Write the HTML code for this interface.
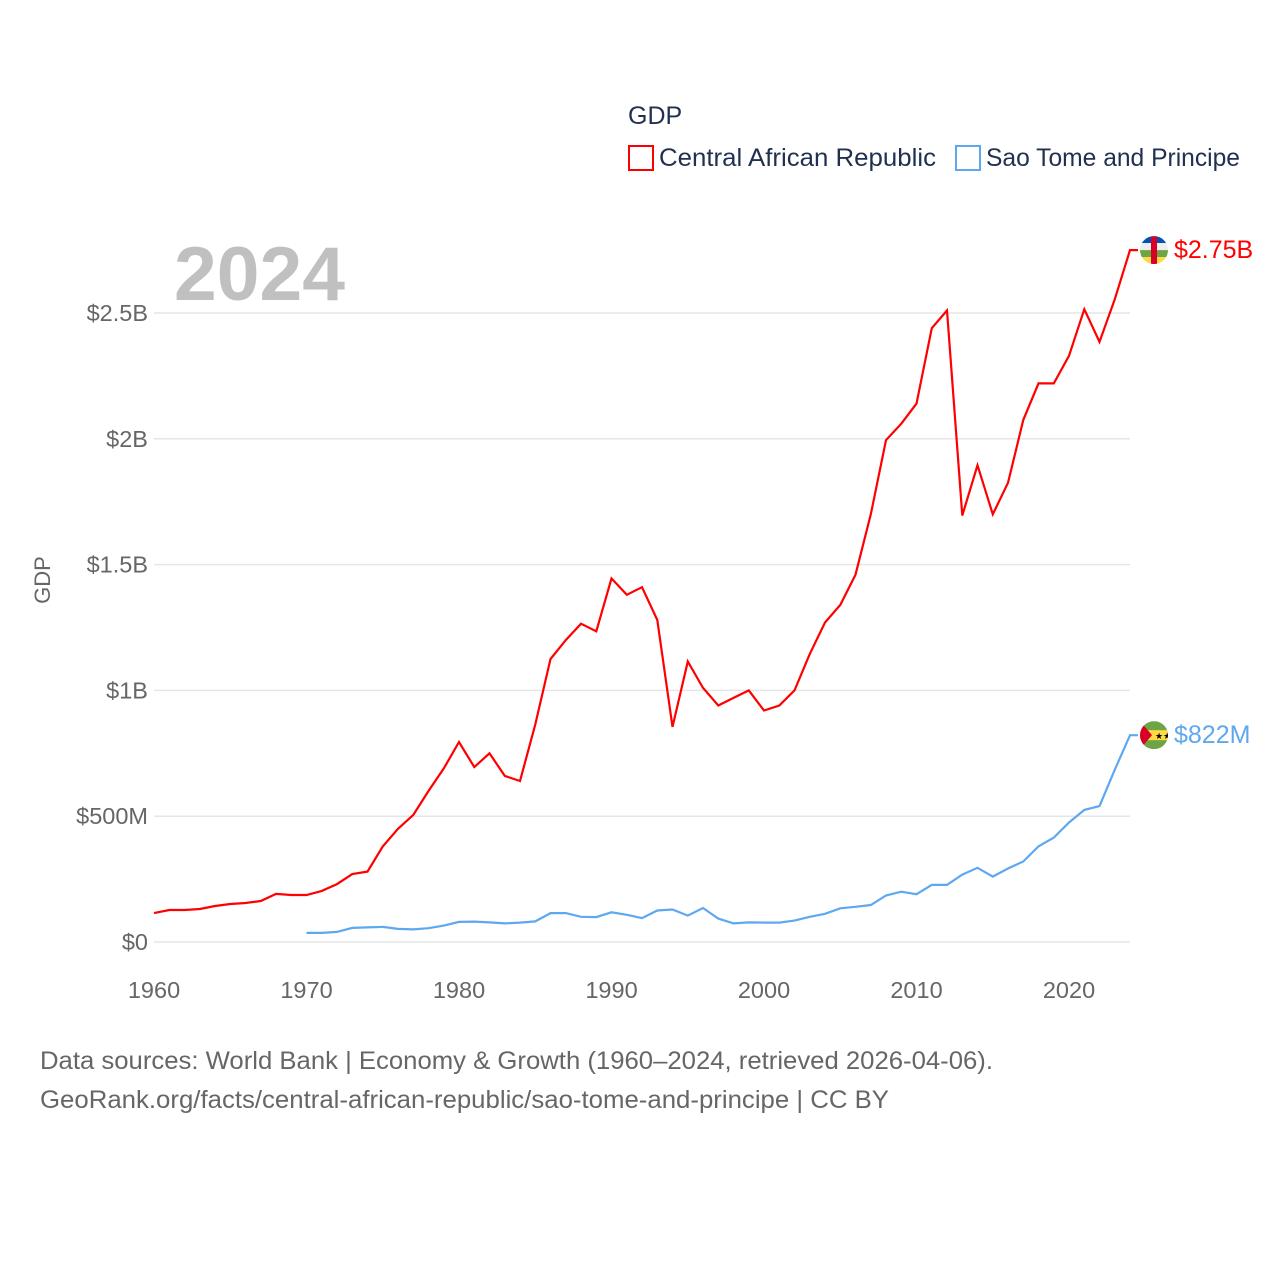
<!DOCTYPE html>
<html><head><meta charset="utf-8"><style>
body{margin:0;background:#fff;font-family:"Liberation Sans",sans-serif}
svg text{font-family:"Liberation Sans",sans-serif}
</style></head><body>
<svg id="chart" width="1280" height="1280" xmlns="http://www.w3.org/2000/svg">
<rect width="1280" height="1280" fill="#fff"/>
<text x="628" y="124" font-size="25" fill="#1f3050">GDP</text>
<g><rect x="629" y="146" width="24" height="24" fill="none" stroke="#ff0000" stroke-width="2"/><text x="659" y="166" font-size="25" fill="#1f3050" textLength="277" lengthAdjust="spacingAndGlyphs">Central African Republic</text></g>
<g><rect x="956" y="146" width="24" height="24" fill="none" stroke="#5ea8ef" stroke-width="2"/><text x="986" y="166" font-size="25" fill="#1f3050" textLength="254" lengthAdjust="spacingAndGlyphs">Sao Tome and Principe</text></g>
<text x="174" y="300" font-size="76" font-weight="bold" fill="#c0c0c0" textLength="171" lengthAdjust="spacingAndGlyphs">2024</text>
<text transform="translate(50,580) rotate(-90)" text-anchor="middle" font-size="22" fill="#666">GDP</text>
<g id="grid"></g><g id="yt"></g><g id="xt"></g><g id="lines"></g>
<text x="40" y="1069" font-size="25" fill="#666" textLength="953" lengthAdjust="spacingAndGlyphs">Data sources: World Bank | Economy &amp; Growth (1960–2024, retrieved 2026-04-06).</text>
<text x="40" y="1108" font-size="25" fill="#666" textLength="849" lengthAdjust="spacingAndGlyphs">GeoRank.org/facts/central-african-republic/sao-tome-and-principe | CC BY</text>
</svg>
<script>
const carYears=[1960,1961,1962,1963,1964,1965,1966,1967,1968,1969,1970,1971,1972,1973,1974,1975,1976,1977,1978,1979,1980,1981,1982,1983,1984,1985,1986,1987,1988,1989,1990,1991,1992,1993,1994,1995,1996,1997,1998,1999,2000,2001,2002,2003,2004,2005,2006,2007,2008,2009,2010,2011,2012,2013,2014,2015,2016,2017,2018,2019,2020,2021,2022,2023,2024];
const carValues=[0.115,0.127,0.127,0.131,0.143,0.151,0.155,0.163,0.191,0.187,0.187,0.203,0.23,0.27,0.28,0.38,0.45,0.505,0.6,0.69,0.795,0.695,0.75,0.66,0.64,0.865,1.125,1.2,1.265,1.235,1.445,1.38,1.41,1.28,0.855,1.115,1.01,0.94,0.97,1.0,0.92,0.94,1.0,1.145,1.27,1.34,1.46,1.7,1.995,2.06,2.14,2.44,2.51,1.695,1.895,1.7,1.825,2.075,2.22,2.22,2.33,2.515,2.385,2.555,2.75];
const stpYears=[1970,1971,1972,1973,1974,1975,1976,1977,1978,1979,1980,1981,1982,1983,1984,1985,1986,1987,1988,1989,1990,1991,1992,1993,1994,1995,1996,1997,1998,1999,2000,2001,2002,2003,2004,2005,2006,2007,2008,2009,2010,2011,2012,2013,2014,2015,2016,2017,2018,2019,2020,2021,2022,2023,2024];
const stpValues=[0.036,0.036,0.04,0.056,0.058,0.06,0.052,0.05,0.055,0.065,0.08,0.081,0.078,0.074,0.077,0.082,0.115,0.115,0.1,0.099,0.118,0.108,0.095,0.125,0.129,0.105,0.135,0.093,0.074,0.078,0.077,0.077,0.085,0.1,0.112,0.134,0.14,0.147,0.185,0.2,0.19,0.227,0.227,0.268,0.295,0.26,0.292,0.32,0.38,0.415,0.475,0.525,0.54,0.685,0.822];
const yTicks=[0,0.5,1,1.5,2,2.5];
const yTickLabels=["$0","$500M","$1B","$1.5B","$2B","$2.5B"];
const xTicks=[1960,1970,1980,1990,2000,2010,2020];
const endLabels=["$2.75B","$822M"];
const NS="http://www.w3.org/2000/svg";
const X=y=>154+(y-1960)*15.25;
const Y=v=>942-v*251.6;
function mk(t,a,p,txt){const e=document.createElementNS(NS,t);for(const k in a)e.setAttribute(k,a[k]);if(txt!==undefined)e.textContent=txt;p.appendChild(e);return e;}
const g=document.getElementById('grid'),yt=document.getElementById('yt'),xt=document.getElementById('xt'),L=document.getElementById('lines');
yTicks.forEach((v,i)=>{
 const l=mk('line',{x1:154,x2:1130,y1:Y(v),y2:Y(v),stroke:'#e6e6e6','stroke-width':1.5},g);
 
 
 const t=mk('text',{x:148,y:Y(v)+8,'text-anchor':'end','font-size':23.5,fill:'#666'},yt,yTickLabels[i]);
 
 
});
xTicks.forEach(v=>{
 const t=mk('text',{x:X(v),y:998,'text-anchor':'middle','font-size':23.5,fill:'#666'},xt,String(v));
 
 
});
function series(ys,vs,color,name){
 const d=ys.map((y,i)=>(i?'L':'M')+X(y).toFixed(1)+','+Y(vs[i]).toFixed(1)).join('')+'h8';
 const p=mk('path',{d:d,fill:'none',stroke:color,'stroke-width':2.2,'stroke-linejoin':'miter'},L);
 
 
}
series(carYears,carValues,'#ff0000','line-central-african-republic');
series(stpYears,stpValues,'#5ea8ef','line-sao-tome-and-principe');
const cy1=Y(carValues[carValues.length-1]),cy2=Y(stpValues[stpValues.length-1]);
const f1=mk('g',{},L);


mk('clipPath',{id:'c1'},f1);mk('circle',{cx:1154,cy:cy1,r:14},f1.lastChild);
const fg1=mk('g',{'clip-path':'url(#c1)'},f1);
[['#0052b4',0],['#eee',7],['#6da544',14],['#ffda44',21]].forEach(s=>mk('rect',{x:1140,y:cy1-14+s[1],width:28,height:7,fill:s[0]},fg1));
mk('rect',{x:1151,y:cy1-14,width:6,height:28,fill:'#d80027'},fg1);
const f2=mk('g',{},L);


mk('clipPath',{id:'c2'},f2);mk('circle',{cx:1154,cy:cy2,r:14},f2.lastChild);
const fg2=mk('g',{'clip-path':'url(#c2)'},f2);
mk('rect',{x:1140,y:cy2-14,width:28,height:28,fill:'#6da544'},fg2);
mk('rect',{x:1140,y:cy2-5,width:28,height:10,fill:'#ffda44'},fg2);
mk('polygon',{points:`1140,${cy2-14} 1152,${cy2} 1140,${cy2+14}`,fill:'#d80027'},fg2);
mk('text',{x:1155,y:cy2+4,'font-size':9,fill:'#000'},fg2,'★★');
const t1=mk('text',{x:1174,y:cy1+8,'font-size':25,fill:'#ff0000'},L,endLabels[0]);


const t2=mk('text',{x:1174,y:cy2+8,'font-size':25,fill:'#5ea8ef'},L,endLabels[1]);


</script>
</body></html>
